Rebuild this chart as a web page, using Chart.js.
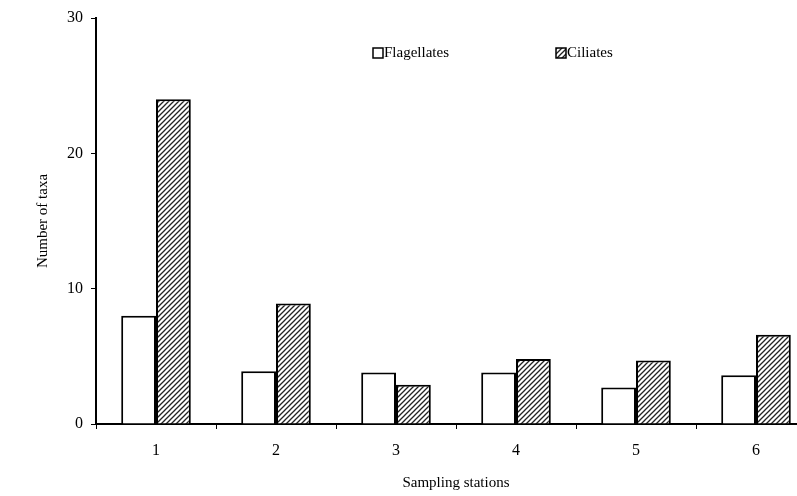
<!DOCTYPE html>
<html>
<head>
<meta charset="utf-8">
<script src="https://cdn.jsdelivr.net/npm/chart.js@4"></script>
<style>
  html, body { margin: 0; padding: 0; background: #fff; overflow: hidden; }
  #wrap { width: 820px; height: 496px; }
</style>
</head>
<body>
<div id="wrap"><canvas id="chart"></canvas></div>
<script>
const stations = ["1", "2", "3", "4", "5", "6"];
const flagellates = [8, 3.9, 3.8, 3.8, 2.7, 3.6];
const ciliates = [24, 8.9, 2.9, 4.8, 4.7, 6.6];
const yTicks = [0, 10, 20, 30];

const serif = "'Liberation Serif', 'Times New Roman', serif";

// diagonal hatch for the ciliate bars
function makeHatch() {
  const c = document.createElement("canvas");
  c.width = 5; c.height = 5;
  const g = c.getContext("2d");
  g.fillStyle = "#fff";
  g.fillRect(0, 0, 5, 5);
  g.strokeStyle = "#222";
  g.lineWidth = 1.3;
  g.beginPath();
  g.moveTo(0, 5); g.lineTo(5, 0);
  g.moveTo(-1, 1); g.lineTo(1, -1);
  g.moveTo(4, 6); g.lineTo(6, 4);
  g.stroke();
  return g.createPattern(c, "repeat");
}
const hatch = makeHatch();

// legend drawn inside the plot area like the original
const legendInside = {
  id: "legendInside",
  afterDraw(chart) {
    const ctx = chart.ctx;
    const items = [
      { x: 373, ds: chart.data.datasets[0] },
      { x: 556, ds: chart.data.datasets[1] }
    ];
    const y = 53;
    ctx.save();
    ctx.font = "15px " + serif;
    ctx.textBaseline = "middle";
    items.forEach(it => {
      ctx.fillStyle = it.ds.backgroundColor;
      ctx.fillRect(it.x, y - 5, 10, 10);
      ctx.strokeStyle = "#000";
      ctx.lineWidth = 1.5;
      ctx.strokeRect(it.x, y - 5, 10, 10);
      ctx.fillStyle = "#000";
      ctx.fillText(it.ds.label, it.x + 11, y);
    });
    ctx.restore();
  }
};

new Chart(document.getElementById("chart"), {
  type: "bar",
  data: {
    labels: stations,
    datasets: [
      { label: "Flagellates", data: flagellates, backgroundColor: "#fff", borderColor: "#000", borderWidth: 2 },
      { label: "Ciliates", data: ciliates, backgroundColor: hatch, borderColor: "#000", borderWidth: 2 }
    ]
  },
  options: {
    responsive: true,
    maintainAspectRatio: false,
    animation: false,
    layout: { padding: { top: 18, right: 4, left: 0, bottom: 0 } },
    plugins: { legend: { display: false }, tooltip: { enabled: false } },
    datasets: { bar: { barPercentage: 1, categoryPercentage: 0.58 } },
    scales: {
      x: {
        afterFit: s => { s.height = 72; },
        grid: { offset: true, drawOnChartArea: false, tickLength: 5, color: "#000", lineWidth: 1 },
        border: { color: "#000", width: 2 },
        ticks: { color: "#000", font: { family: serif, size: 16 }, padding: 12 },
        title: { display: true, text: "Sampling stations", color: "#000", font: { family: serif, size: 15 }, padding: { top: 0, bottom: 4 } }
      },
      y: {
        min: 0, max: 30,
        afterFit: s => { s.width = 96; },
        afterBuildTicks: s => { s.ticks = yTicks.map(v => ({ value: v })); },
        grid: { drawOnChartArea: false, tickLength: 5, color: "#000", lineWidth: 1 },
        border: { color: "#000", width: 2 },
        ticks: { color: "#000", font: { family: serif, size: 16 }, padding: 8 },
        title: { display: true, text: "Number of taxa", color: "#000", font: { family: serif, size: 15 }, padding: { top: 34, bottom: 0 } }
      }
    }
  },
  plugins: [legendInside]
});
</script>
</body>
</html>
